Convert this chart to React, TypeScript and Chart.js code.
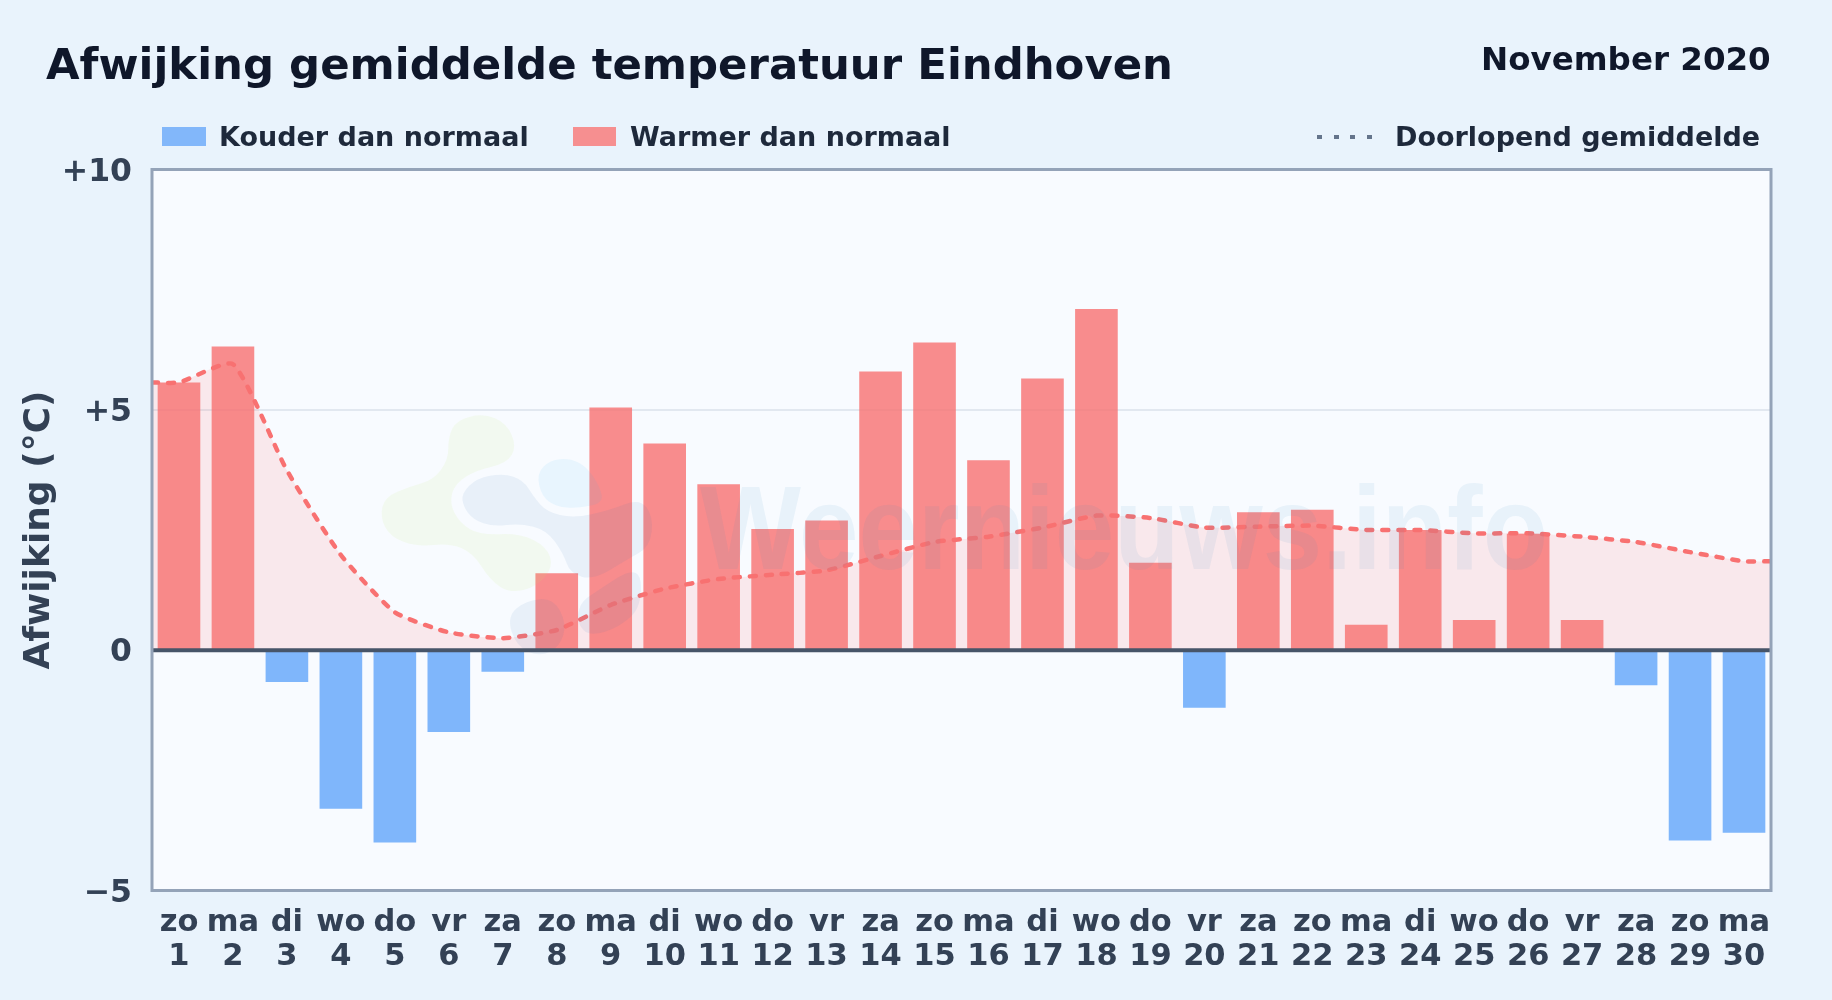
import React, { useEffect, useRef } from "react";
import { Chart, registerables } from "chart.js";

Chart.register(...registerables);

const weekdagen = ["zo","ma","di","wo","do","vr","za","zo","ma","di","wo","do","vr","za","zo","ma","di","wo","do","vr","za","zo","ma","di","wo","do","vr","za","zo","ma"];
const dagen = [1,2,3,4,5,6,7,8,9,10,11,12,13,14,15,16,17,18,19,20,21,22,23,24,25,26,27,28,29,30];
const warmer = [5.57,6.32,null,null,null,null,null,1.6,5.05,4.3,3.45,2.52,2.7,5.8,6.4,3.95,5.65,7.1,1.82,null,2.87,2.92,0.53,2.5,0.63,2.42,0.63,null,null,null];
const kouder = [null,null,-0.66,-3.3,-4.0,-1.7,-0.45,null,null,null,null,null,null,null,null,null,null,null,null,-1.2,null,null,null,null,null,null,null,-0.73,-3.96,-3.8];
const gemiddeldeX = [0.5,1,2,3,4,5,6,7,8,9,10,11,12,13,14,15,16,17,18,19,20,21,22,23,24,25,26,27,28,29,30,30.5];
const gemiddelde = [5.57,5.57,5.95,3.74,1.98,0.79,0.37,0.25,0.42,0.94,1.28,1.48,1.57,1.66,1.96,2.25,2.36,2.55,2.8,2.75,2.55,2.57,2.59,2.5,2.5,2.43,2.43,2.36,2.25,2.04,1.85,1.85];
const yTicks = [10, 5, 0, -5];

const FONT = '"DejaVu Sans"';

// Outlines of the faint watermark logo, in a local 3x grid.
const logoGreen = [[290,90],[370,70],[440,100],[470,170],[440,220],[350,240],[285,280],[268,340],[300,400],[360,435],[480,430],[560,470],[580,530],[530,590],[450,610],[390,570],[340,490],[270,460],[170,470],[90,440],[60,380],[75,320],[150,290],[220,270],[265,210],[265,140]];
const logoBlueMain = [[305,310],[350,265],[430,250],[490,270],[520,320],[560,365],[640,385],[750,360],[840,325],[880,380],[870,470],[800,510],[700,570],[630,550],[610,490],[560,420],[480,400],[400,410],[340,390],[310,350]];
const logoBlueLow = [[440,680],[500,630],[580,625],[620,700],[600,770],[540,800],[470,770]];
const logoBlueRight = [[660,640],[700,610],[840,520],[845,650],[780,710],[690,740],[650,700]];
const logoSky = [[530,250],[570,210],[630,205],[680,230],[720,290],[730,340],[650,355],[590,350],[545,320]];

const fillBlob = (ctx: any, color: string, pts: number[][]) => {
  const n = pts.length;
  const mid = (a: number[], b: number[]) => [(a[0] + b[0]) / 2, (a[1] + b[1]) / 2];
  ctx.fillStyle = color;
  ctx.beginPath();
  const s = mid(pts[n - 1], pts[0]);
  ctx.moveTo(s[0], s[1]);
  for (let i = 0; i < n; i++) {
    const m = mid(pts[i], pts[(i + 1) % n]);
    ctx.quadraticCurveTo(pts[i][0], pts[i][1], m[0], m[1]);
  }
  ctx.closePath();
  ctx.fill();
};

const plotDecor = {
  id: "plotDecor",
  beforeDraw(chart: any) {
    const { ctx, chartArea: a } = chart;
    ctx.save();
    ctx.fillStyle = "#f8fbff";
    ctx.fillRect(a.left, a.top, a.right - a.left, a.bottom - a.top);
    ctx.restore();
  },
  afterDatasetsDraw(chart: any) {
    const { ctx, chartArea: a, scales } = chart;
    ctx.save();
    // watermark
    ctx.save();
    ctx.translate(360, 390);
    ctx.scale(1 / 3, 1 / 3);
    fillBlob(ctx, "rgba(198,231,105,0.1)", logoGreen);
    fillBlob(ctx, "rgba(48,118,177,0.08)", logoBlueMain);
    fillBlob(ctx, "rgba(48,118,177,0.08)", logoBlueLow);
    fillBlob(ctx, "rgba(48,118,177,0.08)", logoBlueRight);
    fillBlob(ctx, "rgba(48,176,243,0.08)", logoSky);
    ctx.restore();
    ctx.fillStyle = "rgba(48,138,192,0.08)";
    ctx.font = 'bold 118px "Liberation Sans"';
    ctx.textBaseline = "alphabetic";
    ctx.textAlign = "left";
    ctx.fillText("Weernieuws.info", 700, 569, 848);
    // zero line and frame
    const y0 = scales.y.getPixelForValue(0);
    ctx.strokeStyle = "#475569";
    ctx.lineWidth = 4;
    ctx.lineCap = "butt";
    ctx.beginPath();
    ctx.moveTo(a.left, y0);
    ctx.lineTo(a.right, y0);
    ctx.stroke();
    ctx.strokeStyle = "#94a3b8";
    ctx.lineWidth = 3;
    ctx.strokeRect(a.left, a.top, a.right - a.left, a.bottom - a.top);
    ctx.restore();
  },
};

const pageStyle: React.CSSProperties = {
  position: "fixed",
  left: 0,
  top: 0,
  width: 1832,
  height: 1000,
  overflow: "hidden",
  background: "#e9f3fc",
  fontFamily: FONT,
  fontWeight: 700,
};

const abs = (left: number, top: number, size: number, color: string): React.CSSProperties => ({
  position: "absolute",
  left,
  top,
  fontSize: size,
  color,
  lineHeight: 1,
  whiteSpace: "nowrap",
});

export default function App() {
  const ref = useRef<HTMLCanvasElement>(null);
  useEffect(() => {
    const chart = new Chart(ref.current!, {
      type: "bar",
      data: {
        labels: weekdagen.map((d, i) => [d, String(dagen[i])]),
        datasets: [
          {
            type: "line",
            label: "Doorlopend gemiddelde",
            data: gemiddeldeX.map((x, i) => ({ x, y: gemiddelde[i] })),
            xAxisID: "x2",
            borderColor: "#f87171",
            borderWidth: 4.5,
            borderDash: [6, 10],
            borderCapStyle: "round",
            backgroundColor: "rgba(255,107,107,0.13)",
            fill: "origin",
            pointRadius: 0,
            tension: 0.18,
            order: 0,
          },
          { label: "Kouder dan normaal", data: kouder, backgroundColor: "rgba(96,165,250,0.8)", grouped: false, barPercentage: 0.79, categoryPercentage: 1, order: 1 },
          { label: "Warmer dan normaal", data: warmer, backgroundColor: "rgba(248,113,113,0.8)", grouped: false, barPercentage: 0.79, categoryPercentage: 1, order: 1 },
        ] as any,
      },
      options: {
        responsive: false,
        animation: false,
        devicePixelRatio: 1,
        layout: { padding: { top: 169.5, right: 61, bottom: 0, left: 0 } },
        plugins: {
          legend: { display: false },
          title: { display: false },
          tooltip: { enabled: false },
          filler: { drawTime: "beforeDatasetsDraw" },
        } as any,
        scales: {
          x: {
            type: "category",
            offset: true,
            grid: { display: false },
            border: { display: false },
            afterFit: (s: any) => { s.height = 109.5; },
            ticks: {
              color: "#334155",
              font: { family: FONT, weight: "bold", size: 30.5, lineHeight: 1.12 },
              padding: 7.5,
              maxRotation: 0,
              autoSkip: false,
            },
          },
          x2: { type: "linear", display: false, offset: false, min: 0.5, max: 30.5 },
          y: {
            type: "linear",
            min: -5,
            max: 10,
            afterBuildTicks: (s: any) => { s.ticks = yTicks.map((value) => ({ value })); },
            afterFit: (s: any) => { s.width = 152; },
            grid: { color: "#e2e8f0", lineWidth: 2, drawTicks: false },
            border: { display: false },
            title: {
              display: true,
              text: "Afwijking (°C)",
              color: "#334155",
              font: { family: FONT, weight: "bold", size: 36 },
              padding: { top: 18, bottom: 0 },
            },
            ticks: {
              color: "#334155",
              font: { family: FONT, weight: "bold", size: 31.5 },
              padding: 20,
              labelOffset: 3,
              callback: (v: any) => (v > 0 ? "+" + v : v < 0 ? "\u2212" + Math.abs(v) : "0"),
            },
          },
        },
      } as any,
      plugins: [plotDecor],
    });
    return () => chart.destroy();
  }, []);

  return (
    <div style={pageStyle}>
      <canvas ref={ref} width={1832} height={1000} style={{ position: "absolute", left: 0, top: 0, display: "block" }} />
      <div style={abs(46, 43, 43.4, "#0f172a")}>Afwijking gemiddelde temperatuur Eindhoven</div>
      <div style={abs(1481, 43, 32.5, "#0f172a")}>November 2020</div>
      <div style={{ position: "absolute", left: 162, top: 127, width: 44, height: 19, background: "#82b7fa" }} />
      <div style={abs(219, 123, 27, "#1e293b")}>Kouder dan normaal</div>
      <div style={{ position: "absolute", left: 573, top: 127, width: 43, height: 19, background: "#f68f90" }} />
      <div style={abs(630, 123, 27, "#1e293b")}>Warmer dan normaal</div>
      {[0, 1, 2, 3].map((i) => (
        <div key={i} style={{ position: "absolute", left: 1317 + i * 16.5, top: 135, width: 5, height: 4, background: "#64748b" }} />
      ))}
      <div style={abs(1395, 123, 27, "#1e293b")}>Doorlopend gemiddelde</div>
    </div>
  );
}
